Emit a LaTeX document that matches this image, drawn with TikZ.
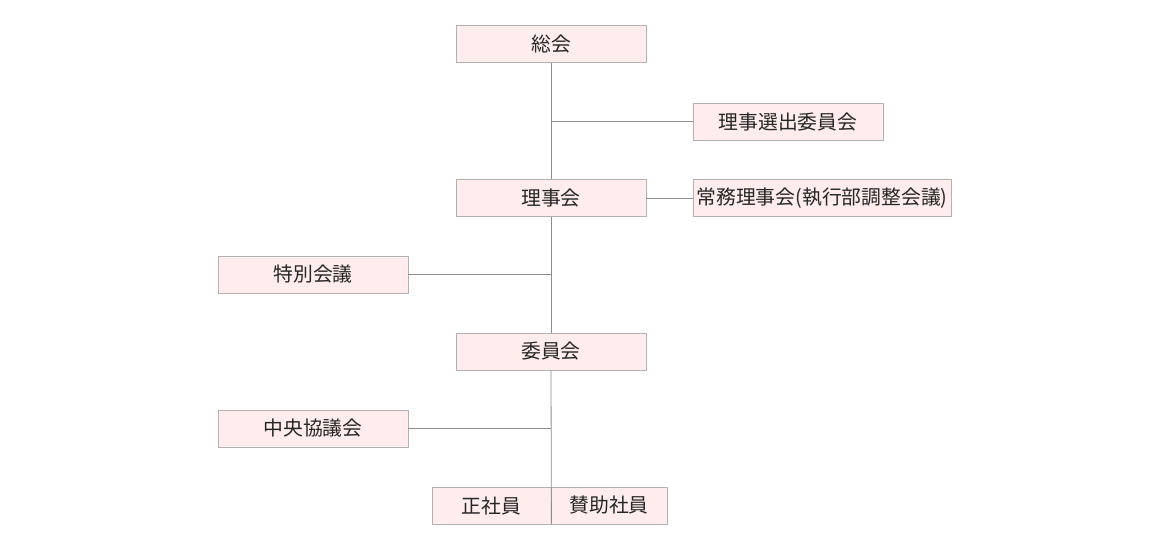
\documentclass[tikz,border=0pt]{standalone}
\usepackage{fontspec}
\newfontfamily\cjk{Noto Sans CJK JP}
\begin{document}
\begin{tikzpicture}[x=1pt,y=-1pt,
  box/.style={draw=black!30,fill=pink!30!white,line width=0.8pt,minimum height=37pt,inner sep=0pt,font=\cjk\fontsize{19.8}{22}\selectfont,text=black!85},
  link/.style={draw=black!45,line width=0.8pt}]
\useasboundingbox (0,0) rectangle (1170,550);
\node[box,minimum width=190pt] (sokai) at (551,44) {総会};
\node[box,minimum width=190pt] (senshutsu) at (788,121.5) {理事選出委員会};
\node[box,minimum width=190pt] (rijikai) at (551,198) {理事会};
\node[box,minimum width=258pt] (jomu) at (822,198) {常務理事会(執行部調整会議)};
\node[box,minimum width=190pt] (tokubetsu) at (313,274.5) {特別会議};
\node[box,minimum width=190pt] (iinkai) at (551,351.5) {委員会};
\node[box,minimum width=190pt] (chuo) at (313,428.5) {中央協議会};
\node[box,minimum width=119pt] (sei) at (491.5,505.5) {正社員};
\node[box,minimum width=116pt] (sanjo) at (609,505.5) {賛助社員};
\coordinate (j1) at (551,121.5);
\coordinate (j2) at (551,274.5);
\coordinate (j3) at (551,428.5);
\draw[link] (sokai.south) -- (rijikai.north);
\draw[link] (j1) -- (senshutsu.west);
\draw[link] (rijikai.east) -- (jomu.west);
\draw[link] (rijikai.south) -- (iinkai.north);
\draw[link] (tokubetsu.east) -- (j2);
\draw[link] (iinkai.south) -- (sei.south east);
\draw[link] (chuo.east) -- (j3);
\end{tikzpicture}
\end{document}
